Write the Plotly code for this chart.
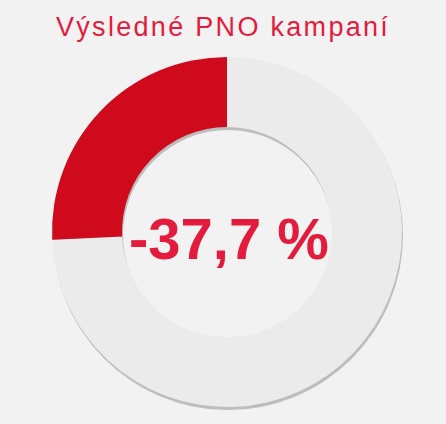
import plotly.graph_objects as go

# slice shares (the rest first, then the red part up to 12 o'clock)
labels = ["Zbytek", "PNO"]
values = [74.3, 25.7]
colors = ["#ebebeb", "#cf0a1c"]
center_text = "-37,7 %"
title_text = "Výsledné PNO kampaní"

W, H = 446, 424
cx, cy, r = 227, 232, 175  # pixel centre / radius of the ring


def dom(cx, cy, r):
    return dict(
        x=[(cx - r) / W, (cx + r) / W],
        y=[(H - cy - r) / H, (H - cy + r) / H],
    )


fig = go.Figure()

# soft shadow under the ring
fig.add_trace(
    go.Pie(
        values=[1],
        hole=0.6,
        domain=dom(cx + 1, cy + 3, r),
        marker=dict(colors=["rgba(0,0,0,0.22)"], line=dict(width=0)),
        textinfo="none",
        hoverinfo="skip",
        sort=False,
    )
)

fig.add_trace(
    go.Pie(
        labels=labels,
        values=values,
        hole=0.6,
        sort=False,
        direction="clockwise",
        rotation=0,
        domain=dom(cx, cy, r),
        marker=dict(colors=colors, line=dict(width=0)),
        textinfo="none",
        hoverinfo="label+value",
    )
)

fig.add_annotation(
    text=title_text,
    x=223 / W,
    y=1 - 27 / H,
    xref="paper",
    yref="paper",
    xanchor="center",
    yanchor="middle",
    showarrow=False,
    font=dict(family="Liberation Sans, Arial, sans-serif", size=27, color="#e31c3d"),
)
fig.add_annotation(
    text="<b>%s</b>" % center_text,
    x=229 / W,
    y=1 - 238 / H,
    xref="paper",
    yref="paper",
    xanchor="center",
    yanchor="middle",
    showarrow=False,
    font=dict(family="Liberation Sans, Arial, sans-serif", size=58, color="#e31c3d"),
)

fig.update_layout(
    width=W,
    height=H,
    margin=dict(l=0, r=0, t=0, b=0),
    paper_bgcolor="#f2f2f2",
    plot_bgcolor="#f2f2f2",
    showlegend=False,
)

# no page margin, and the wide letter spacing of the title
post = (
    "document.body.style.margin='0';"
    "document.body.style.background='#f2f2f2';"
    "var t=document.querySelectorAll('.annotation-text')[0];"
    "if(t){t.style.letterSpacing='2.3px';}"
)
fig.write_html("out.html", post_script=post, config={"displayModeBar": False})
